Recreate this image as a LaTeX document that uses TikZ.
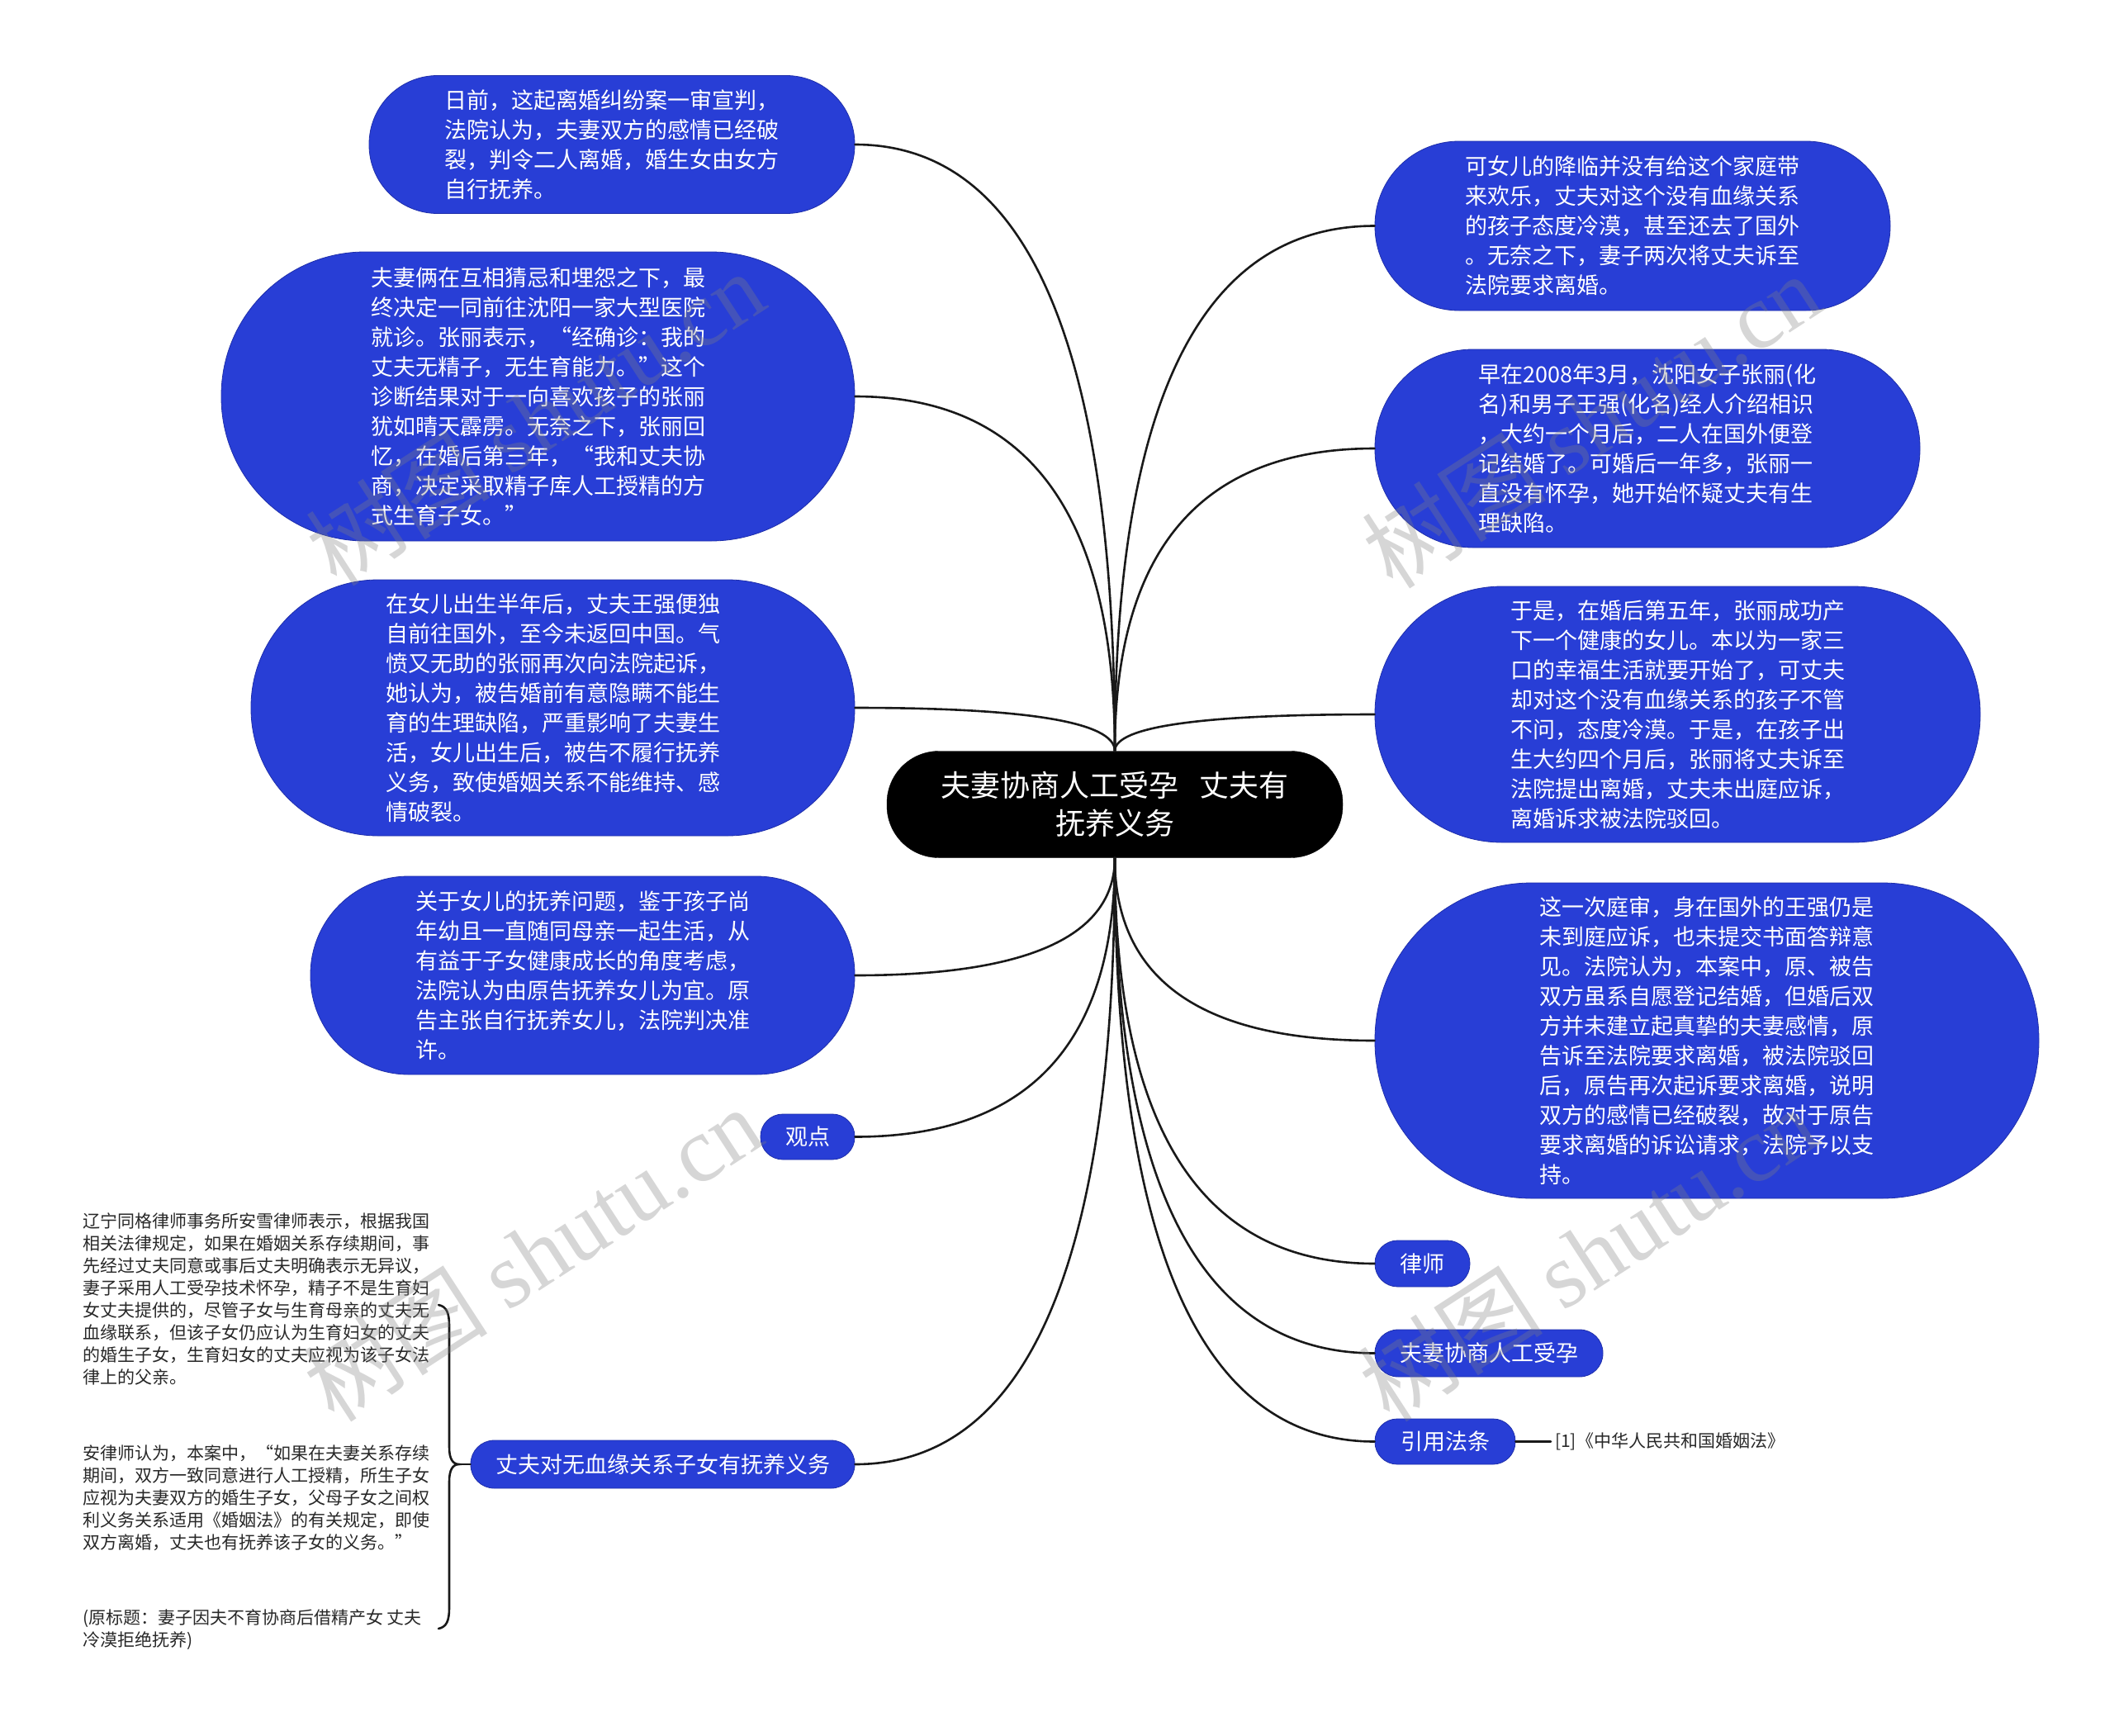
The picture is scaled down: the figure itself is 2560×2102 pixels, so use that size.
\documentclass[tikz,border=0pt]{standalone}
\usepackage{fontspec}
\setmainfont{Noto Sans CJK SC}
\newfontfamily\wmlatin{Liberation Serif}
\usetikzlibrary{calc}
\definecolor{mmblue}{RGB}{40,62,214}
\definecolor{mmedge}{RGB}{30,46,170}
\definecolor{mmline}{RGB}{25,25,25}
\definecolor{mmtext}{RGB}{40,40,40}
\definecolor{mmgray}{RGB}{128,128,128}
\tikzset{
  blob/.style={fill=mmblue, draw=mmedge, line width=0.8pt, text=white,
    font=\fontsize{27}{36}\selectfont, align=left, inner sep=0pt},
  hub/.style={fill=black, draw=black, text=white, font=\fontsize{36}{46}\selectfont,
    align=center, inner sep=0pt, minimum width=552, minimum height=129, rounded corners=63},
  conn/.style={draw=mmline, line width=2.6pt, line cap=round},
  note/.style={text=mmtext, font=\fontsize{21}{27}\selectfont, align=left, inner sep=0pt, anchor=west},
  wm/.style={rotate=33, text=mmgray, text opacity=0.32, font=\fontsize{112}{112}\selectfont, inner sep=0pt}
}
\newcommand\mmlink[3]{%
  \coordinate (#3) at (#1 |- #2);
  \draw[conn] (#1) .. controls ($(#1)!0.6667!(#3)$) and ($(#2)!0.6667!(#3)$) .. (#2);}
\begin{document}
\begin{tikzpicture}[x=1pt,y=-1pt]
\fill[white] (0,0) rectangle (2560,2102);
\useasboundingbox (0,0) rectangle (2560,2102);

% central node
\node[hub] (c) at (1350,974) {夫妻协商人工受孕\hspace{0.7em}丈夫有\\抚养义务};

% left nodes
\node[blob, minimum width=588, minimum height=167, rounded corners=83] (n1) at (741,175)
 {日前，这起离婚纠纷案一审宣判，\\法院认为，夫妻双方的感情已经破\\裂，判令二人离婚，婚生女由女方\\自行抚养。};
\node[blob, minimum width=767, minimum height=350, rounded corners=174] (n2) at (651.5,480)
 {夫妻俩在互相猜忌和埋怨之下，最\\终决定一同前往沈阳一家大型医院\\就诊。张丽表示，“经确诊：我的\\丈夫无精子，无生育能力。”这个\\诊断结果对于一向喜欢孩子的张丽\\犹如晴天霹雳。无奈之下，张丽回\\忆，在婚后第三年，“我和丈夫协\\商，决定采取精子库人工授精的方\\式生育子女。”};
\node[blob, minimum width=731, minimum height=310, rounded corners=154] (n3) at (669.5,857)
 {在女儿出生半年后，丈夫王强便独\\自前往国外，至今未返回中国。气\\愤又无助的张丽再次向法院起诉，\\她认为，被告婚前有意隐瞒不能生\\育的生理缺陷，严重影响了夫妻生\\活，女儿出生后，被告不履行抚养\\义务，致使婚姻关系不能维持、感\\情破裂。};
\node[blob, minimum width=659, minimum height=240, rounded corners=119] (n4) at (705.5,1181)
 {关于女儿的抚养问题，鉴于孩子尚\\年幼且一直随同母亲一起生活，从\\有益于子女健康成长的角度考虑，\\法院认为由原告抚养女儿为宜。原\\告主张自行抚养女儿，法院判决准\\许。};
\node[blob, align=center, minimum width=114, minimum height=55, rounded corners=27] (n5) at (978,1376.5) {观点};
\node[blob, align=center, minimum width=465, minimum height=58, rounded corners=28.5] (n6) at (802.5,1773) {丈夫对无血缘关系子女有抚养义务};

% right nodes
\node[blob, minimum width=624, minimum height=205, rounded corners=102] (r1) at (1977,273.5)
 {可女儿的降临并没有给这个家庭带\\来欢乐，丈夫对这个没有血缘关系\\的孩子态度冷漠，甚至还去了国外\\。无奈之下，妻子两次将丈夫诉至\\法院要求离婚。};
\node[blob, minimum width=660, minimum height=240, rounded corners=119] (r2) at (1995,543)
 {早在2008年3月，沈阳女子张丽(化\\名)和男子王强(化名)经人介绍相识\\，大约一个月后，二人在国外便登\\记结婚了。可婚后一年多，张丽一\\直没有怀孕，她开始怀疑丈夫有生\\理缺陷。};
\node[blob, minimum width=733, minimum height=310, rounded corners=154] (r3) at (2031.5,865)
 {于是，在婚后第五年，张丽成功产\\下一个健康的女儿。本以为一家三\\口的幸福生活就要开始了，可丈夫\\却对这个没有血缘关系的孩子不管\\不问，态度冷漠。于是，在孩子出\\生大约四个月后，张丽将丈夫诉至\\法院提出离婚，丈夫未出庭应诉，\\离婚诉求被法院驳回。};
\node[blob, minimum width=804, minimum height=382, rounded corners=190] (r4) at (2067,1260)
 {这一次庭审，身在国外的王强仍是\\未到庭应诉，也未提交书面答辩意\\见。法院认为，本案中，原、被告\\双方虽系自愿登记结婚，但婚后双\\方并未建立起真挚的夫妻感情，原\\告诉至法院要求离婚，被法院驳回\\后，原告再次起诉要求离婚，说明\\双方的感情已经破裂，故对于原告\\要求离婚的诉讼请求，法院予以支\\持。};
\node[blob, align=center, minimum width=115, minimum height=56, rounded corners=27.5] (r5) at (1722.5,1530) {律师};
\node[blob, align=center, minimum width=276, minimum height=57, rounded corners=28] (r6) at (1803,1638.5) {夫妻协商人工受孕};
\node[blob, align=center, minimum width=170, minimum height=55, rounded corners=27] (r7) at (1750,1745.5) {引用法条};

% notes on the left
\node[note] (t1) at (100,1572.5) {辽宁同格律师事务所安雪律师表示，根据我国\\相关法律规定，如果在婚姻关系存续期间，事\\先经过丈夫同意或事后丈夫明确表示无异议，\\妻子采用人工受孕技术怀孕，精子不是生育妇\\女丈夫提供的，尽管子女与生育母亲的丈夫无\\血缘联系，但该子女仍应认为生育妇女的丈夫\\的婚生子女，生育妇女的丈夫应视为该子女法\\律上的父亲。};
\node[note] (t2) at (100,1814) {安律师认为，本案中，“如果在夫妻关系存续\\期间，双方一致同意进行人工授精，所生子女\\应视为夫妻双方的婚生子女，父母子女之间权\\利义务关系适用《婚姻法》的有关规定，即使\\双方离婚，丈夫也有抚养该子女的义务。”};
\node[note] (t3) at (100,1973) {(原标题：妻子因夫不育协商后借精产女 丈夫\\冷漠拒绝抚养)};

% reference text
\node[note, inner sep=5pt] (ref) at (1878,1745.5) {[1]《中华人民共和国婚姻法》};

% connectors
\mmlink{c.north}{n1.east}{k1}
\mmlink{c.north}{n2.east}{k2}
\mmlink{c.north}{n3.east}{k3}
\mmlink{c.south}{n4.east}{k4}
\mmlink{c.south}{n5.east}{k5}
\mmlink{c.south}{n6.east}{k6}
\mmlink{c.north}{r1.west}{k7}
\mmlink{c.north}{r2.west}{k8}
\mmlink{c.north}{r3.west}{k9}
\mmlink{c.south}{r4.west}{k10}
\mmlink{c.south}{r5.west}{k11}
\mmlink{c.south}{r6.west}{k12}
\mmlink{c.south}{r7.west}{k13}
\draw[conn] (r7.east) -- (ref.west);

% brace
\coordinate (bt) at (556,1773);
\draw[conn] (531,1580) .. controls (541,1582) and (544,1590) .. (544,1605) -- (544,1752)
  .. controls (544,1766) and (548,1773) .. (bt)
  .. controls (548,1773) and (544,1780) .. (544,1794) -- (544,1947)
  .. controls (544,1962) and (541,1970) .. (531,1972);
\draw[conn] (bt) -- (n6.west);

% watermarks
\node[wm] (w1) at (648,506) {树图 {\wmlatin shutu.cn}};
\node[wm] (w2) at (1927,509) {树图 {\wmlatin shutu.cn}};
\node[wm] (w3) at (645,1518) {树图 {\wmlatin shutu.cn}};
\node[wm] (w4) at (1923,1518) {树图 {\wmlatin shutu.cn}};
\end{tikzpicture}
\end{document}
